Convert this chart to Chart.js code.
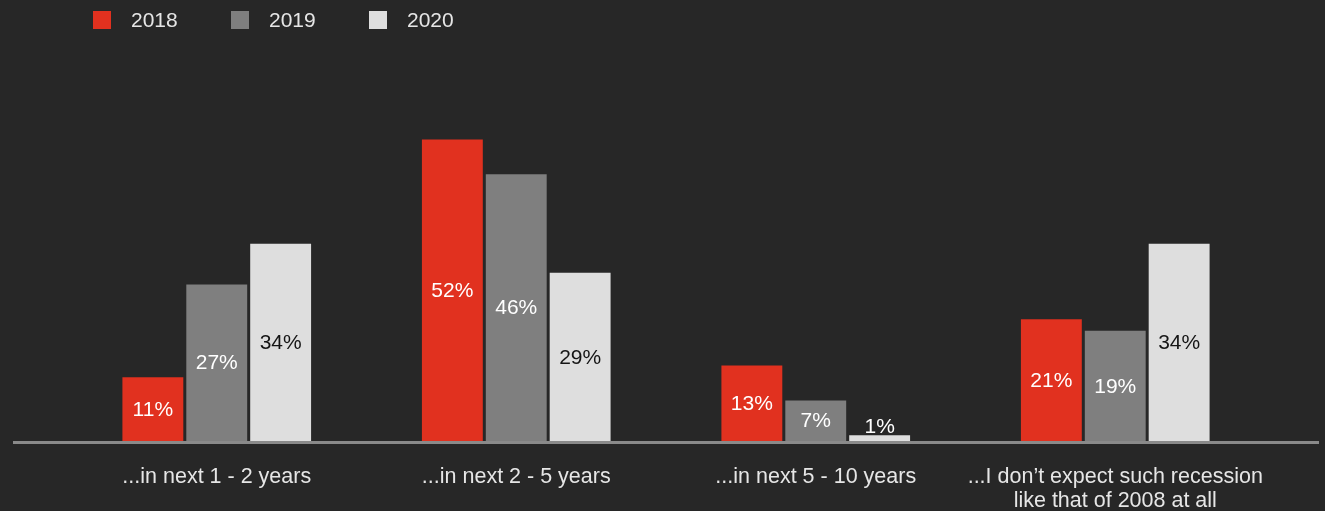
<!DOCTYPE html>
<html>
<head>
<meta charset="utf-8">
<script src="https://cdn.jsdelivr.net/npm/chart.js@4"></script>
<style>
  html, body { margin: 0; padding: 0; background: #272727; }
  #wrap { position: relative; width: 1325px; height: 511px; }
  #legend { position: absolute; left: 93px; top: 0; height: 40px; }
  .item { position: absolute; top: 0; display: flex; align-items: center; height: 40px;
          font-family: "Liberation Sans", Arial, sans-serif; font-size: 21px; color: #e6e6e6; white-space: nowrap; }
  .box { width: 18px; height: 18px; margin-right: 20px; }
</style>
</head>
<body>
<div id="wrap">
  <canvas id="bar"></canvas>
  <div id="legend"></div>
</div>
<script>
(function () {
  // answers per horizon, percent of respondents
  const categories = [
    '...in next 1 - 2 years',
    '...in next 2 - 5 years',
    '...in next 5 - 10 years',
    ["...I don\u2019t expect such recession", 'like that of 2008 at all'],
  ];
  const years = ['2018', '2019', '2020'];
  const values2018 = [11, 52, 13, 21];
  const values2019 = [27, 46, 7, 19];
  const values2020 = [34, 29, 1, 34];

  const colors = ['#e1311f', '#7f7f7f', '#dedede'];
  const labelColors = ['#ffffff', '#ffffff', '#151515'];
  const series = [values2018, values2019, values2020];

  // legend on top
  const legend = document.getElementById('legend');
  years.forEach((y, i) => {
    const el = document.createElement('div');
    el.className = 'item';
    el.style.left = (i * 138) + 'px';
    el.innerHTML = '<span class="box" style="background:' + colors[i] + '"></span>' + y;
    legend.appendChild(el);
  });

  // value labels in the middle of each bar, above it when the bar is too short
  const valueLabels = {
    id: 'valueLabels',
    afterDatasetsDraw(chart) {
      const ctx = chart.ctx;
      ctx.save();
      ctx.font = '21px "Liberation Sans", Arial, sans-serif';
      ctx.textAlign = 'center';
      chart.data.datasets.forEach((ds, di) => {
        chart.getDatasetMeta(di).data.forEach((bar, i) => {
          const text = ds.data[i] + '%';
          if (bar.base - bar.y < 26) {
            ctx.fillStyle = '#ffffff';
            ctx.textBaseline = 'alphabetic';
            ctx.fillText(text, bar.x, bar.y - 2);
          } else {
            ctx.fillStyle = labelColors[di];
            ctx.textBaseline = 'middle';
            ctx.fillText(text, bar.x, (bar.y + bar.base) / 2 + 1);
          }
        });
      });
      ctx.restore();
    }
  };

  // baseline running across the whole width
  const baseline = {
    id: 'baseline',
    afterDatasetsDraw(chart) {
      const ctx = chart.ctx;
      const y = chart.chartArea.bottom + 1.5;
      ctx.save();
      ctx.strokeStyle = '#8a8a8a';
      ctx.lineWidth = 3;
      ctx.beginPath();
      ctx.moveTo(13, y);
      ctx.lineTo(1319, y);
      ctx.stroke();
      ctx.restore();
    }
  };

  new Chart(document.getElementById('bar'), {
    type: 'bar',
    data: {
      labels: categories,
      datasets: years.map((y, i) => ({
        label: y,
        data: series[i],
        backgroundColor: colors[i],
        borderWidth: 0,
        categoryPercentage: 0.64,
        barPercentage: 0.953,
      })),
    },
    options: {
      responsive: true,
      maintainAspectRatio: false,
      animation: false,
      layout: { padding: { top: 93, left: 67, right: 60, bottom: 0 } },
      plugins: {
        legend: { display: false },
        tooltip: { enabled: false },
      },
      scales: {
        x: {
          grid: { display: false, drawTicks: false },
          border: { display: false },
          ticks: {
            color: '#e6e6e6',
            padding: 24,
            maxRotation: 0,
            autoSkip: false,
            font: { family: '"Liberation Sans", Arial, sans-serif', size: 21.5, lineHeight: 1.12 },
          },
          afterFit(scale) { scale.height = 70; },
        },
        y: {
          display: false,
          min: 0,
          max: 60,
        },
      },
    },
    plugins: [valueLabels, baseline],
  });
})();
</script>
</body>
</html>
